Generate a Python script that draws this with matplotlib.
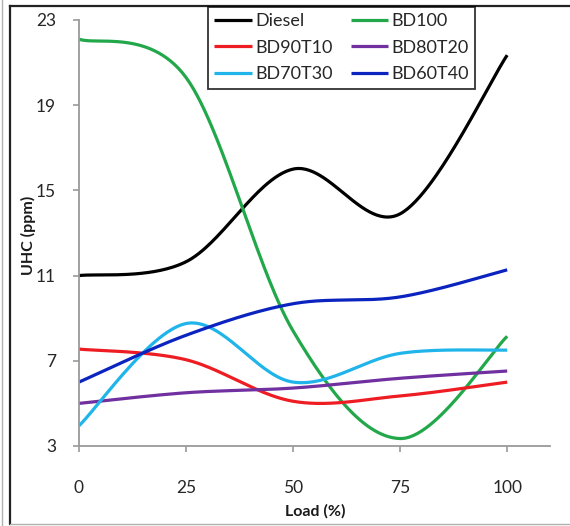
import numpy as np
import matplotlib
matplotlib.use("Agg")
import matplotlib.pyplot as plt
from matplotlib.lines import Line2D

# ---- data ----
loads = [0, 25, 50, 75, 100]
diesel = [11.0, 11.65, 16.0, 13.9, 21.35]
bd100 = [22.1, 20.3, 8.4, 3.35, 8.15]
bd90t10 = [7.55, 7.05, 5.1, 5.35, 6.0]
bd80t20 = [5.0, 5.5, 5.72, 6.18, 6.52]
bd70t30 = [3.95, 8.75, 6.0, 7.35, 7.5]
bd60t40 = [6.0, 8.2, 9.68, 10.0, 11.27]

series_names = ["Diesel", "BD100", "BD90T10", "BD80T20", "BD70T30", "BD60T40"]
series_values = [diesel, bd100, bd90t10, bd80t20, bd70t30, bd60t40]
colors = ["#000000", "#22a84a", "#ee1d23", "#7030a0", "#1fb4ea", "#0c24bf"]

xticks = [0, 25, 50, 75, 100]
yticks = [3, 7, 11, 15, 19, 23]
xlabel = "Load (%)"
ylabel = "UHC (ppm)"


def smooth(x, y, n=60):
    """Excel-like smoothed line (Bezier through points, Catmull-Rom tangents)."""
    pts = np.column_stack([x, y]).astype(float)
    P = np.vstack([pts[0], pts, pts[-1]])
    out = []
    t = np.linspace(0, 1, n)[:, None]
    for i in range(1, len(P) - 2):
        p0, p1, p2, p3 = P[i - 1], P[i], P[i + 1], P[i + 2]
        c1 = p1 + (p2 - p0) / 6.0
        c2 = p2 - (p3 - p1) / 6.0
        seg = (1 - t) ** 3 * p1 + 3 * (1 - t) ** 2 * t * c1 + 3 * (1 - t) * t ** 2 * c2 + t ** 3 * p2
        out.append(seg if i == 1 else seg[1:])
    s = np.vstack(out)
    return s[:, 0], s[:, 1]


plt.rcParams['font.family'] = ['Lato', 'DejaVu Sans']

W, H = 570, 526
fig = plt.figure(figsize=(W / 100, H / 100), dpi=100)
fig.patch.set_facecolor("white")

left_px, right_px, top_px, bot_px = 79, 550, 20, 446
ax = fig.add_axes([left_px / W, 1 - bot_px / H, (right_px - left_px) / W, (bot_px - top_px) / H])

handles = {}
for name, vals, c in zip(series_names, series_values, colors):
    xs, ys = smooth(loads, vals)
    (ln,) = ax.plot(xs, ys, color=c, lw=2.3, label=name, solid_capstyle='butt')
    handles[name] = ln

ax.set_xlim(0, 110)
ax.set_ylim(3, 23)
ax.set_xticks(xticks)
ax.set_yticks(yticks)
for s in ["top", "right"]:
    ax.spines[s].set_visible(False)
for s in ["left", "bottom"]:
    ax.spines[s].set_color("#9a9a9a")
    ax.spines[s].set_linewidth(1.3)
ax.tick_params(axis='both', direction='out', length=4.5, width=1.2, color="#9a9a9a",
               labelsize=12.5, labelcolor="#262626")
ax.tick_params(axis='y', pad=12)
ax.tick_params(axis='x', pad=20)

fig.text(28 / W, 1 - 235 / H, ylabel, rotation=90, ha='center', va='center',
         fontsize=11.5, fontweight='bold', color="#1a1a1a")
fig.text(315 / W, 1 - 511 / H, xlabel, ha='center', va='center',
         fontsize=11.5, fontweight='bold', color="#1a1a1a")

# row-major order as in the reference (matplotlib fills legend columns first)
order = series_names[0::2] + series_names[1::2]
leg = fig.legend([handles[n] for n in order], order,
                 loc='upper left', bbox_to_anchor=(208 / W, 1 - 7 / H), ncol=2,
                 frameon=True, fancybox=False, edgecolor='black', fontsize=13,
                 handlelength=2.1, handletextpad=0.15, columnspacing=1.0,
                 labelspacing=0.58, borderpad=0.35, borderaxespad=0)
leg.get_frame().set_linewidth(1.3)
for t in leg.get_texts():
    t.set_color("#262626")

# outer frame like the screenshot
fig.add_artist(Line2D([10 / W, 10 / W], [1 - 524 / H, 1 - 6 / H], transform=fig.transFigure,
                      color="#222222", lw=1.6))
fig.add_artist(Line2D([10 / W, 1.0], [1 - 6 / H, 1 - 6 / H], transform=fig.transFigure,
                      color="#222222", lw=1.6))
fig.add_artist(Line2D([10 / W, 1.0], [1 - 524 / H, 1 - 524 / H], transform=fig.transFigure,
                      color="#b0b0b0", lw=1.0))
fig.add_artist(Line2D([1.5 / W, 1.5 / W], [0, 1], transform=fig.transFigure,
                      color="#b0b0b0", lw=1.0))

fig.savefig("out.png", dpi=100)
